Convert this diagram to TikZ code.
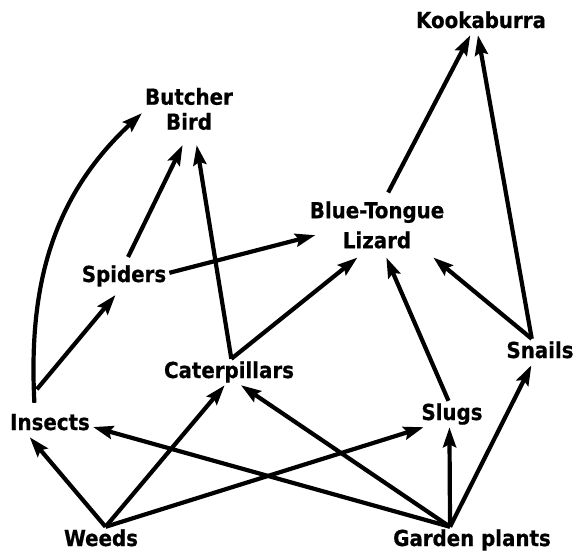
\documentclass[tikz,border=0pt]{standalone}
\usepackage{fontspec}
\newfontfamily\lbl[FakeBold=0.6]{DejaVu Sans Condensed Bold}
\usetikzlibrary{arrows.meta}
\tikzset{>={Stealth[length=20pt,width=13pt,inset=3pt]},
  species/.style={font=\lbl\fontsize{22}{25}\selectfont,inner sep=3pt,
    text height=16pt,text depth=4pt,anchor=base},
  twoline/.style={font=\lbl\fontsize{22}{25}\selectfont,inner sep=3pt,align=center},
  eats/.style={->,line width=4.2pt}}
\begin{document}
\begin{tikzpicture}[x=1pt,y=-1pt]
\useasboundingbox (0,0) rectangle (575,553);
% the species
\node[species] (kook) at (481,28) {Kookaburra};
\node[twoline,outer ysep=12pt] (butcher) at (189,109) {Butcher\\Bird};
\node[twoline,outer ysep=6pt] (lizard) at (377,225) {Blue-Tongue\\[5pt]Lizard};
\node[species,outer ysep=6pt] (spiders) at (124,282) {Spiders};
\node[species] (cater) at (229,378) {Caterpillars};
\node[species] (snails) at (540,358) {Snails};
\node[species] (insects) at (50,430) {Insects};
\node[species] (slugs) at (452,420) {Slugs};
\node[species] (weeds) at (101,546) {Weeds};
\node[species] (garden) at (472,546) {Garden plants};
% who eats whom
\draw[eats] (weeds.71) -- (insects.213);
\draw[eats] (weeds.71) -- (cater.252);
\draw[eats] (weeds.71) -- (slugs.205);
\draw[eats] (garden.149) -- (insects.356);
\draw[eats] (garden.149) -- (cater.312);
\draw[eats] (garden.149) -- (slugs.259);
\draw[eats] (garden.149) -- (snails.237);
\draw[eats] (snails.122) -- (lizard.330);
\draw[eats] (snails.122) -- (kook.257);
\draw[eats] (lizard.71) -- (kook.231);
\draw[eats] (slugs.105) -- (lizard.286);
\draw[eats] (cater.80) -- (lizard.239);
\draw[eats] (cater.80) -- (butcher.282);
\draw[eats] (spiders.78) -- (butcher.260);
\draw[eats,shorten >=-9pt] (spiders.4) -- (lizard.190);
\draw[eats,shorten <=28pt] (insects.157) -- (spiders.246);
\draw[eats,shorten <=8pt] (insects.139) to[out=93,in=223] (butcher.185);
\end{tikzpicture}
\end{document}
